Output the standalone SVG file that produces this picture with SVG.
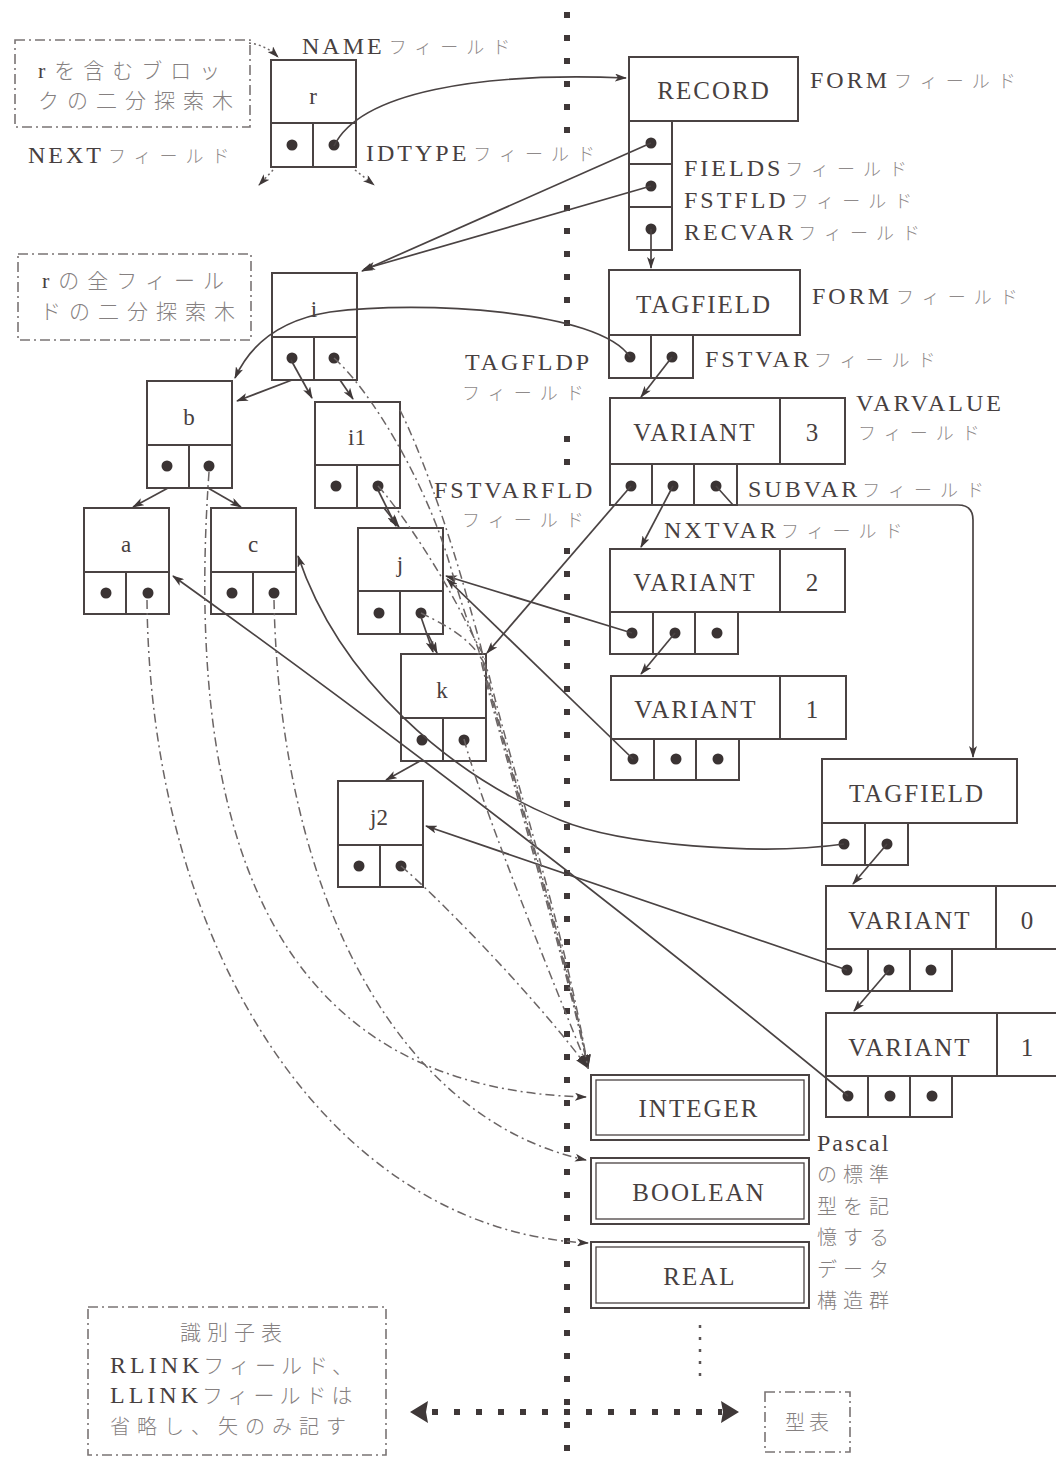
<svg xmlns="http://www.w3.org/2000/svg" width="1056" height="1463" viewBox="0 0 1056 1463">
<defs>
<style>
.box{fill:none;stroke:#4a4343;stroke-width:2}
.ln{fill:none;stroke:#4a4343;stroke-width:1.7}
.dd{fill:none;stroke:#6b6565;stroke-width:1.5;stroke-dasharray:9 4 2 4}
.dotted{fill:none;stroke:#3f3838;stroke-width:6;stroke-dasharray:6 17}
.fine{fill:none;stroke:#6b6565;stroke-width:1.5;stroke-dasharray:2 3}
.frame{fill:none;stroke:#7a7474;stroke-width:1.6;stroke-dasharray:10 4 2 4}
.dot{fill:#3a3333}
.en{font-family:"Liberation Serif",serif;font-size:24px;letter-spacing:3px;fill:#474040}
.jp{font-family:"Noto Sans CJK JP",sans-serif;font-size:18px;letter-spacing:8px;fill:#8f8a8a;font-weight:300}
.jb{font-family:"Noto Sans CJK JP",sans-serif;font-size:21px;letter-spacing:8px;fill:#858080;font-weight:300}
.tn{font-family:"Liberation Serif",serif;font-size:25px;letter-spacing:2px;fill:#474040;text-anchor:middle}
.id{font-family:"Liberation Serif",serif;font-size:23px;fill:#474040;text-anchor:middle}
</style>
<marker id="ah" viewBox="0 0 12 8" refX="11" refY="4" markerWidth="12" markerHeight="8" markerUnits="userSpaceOnUse" orient="auto">
<path d="M0 0L12 4L0 8L3 4Z" fill="#3f3838"/>
</marker>
<marker id="ahb" viewBox="0 0 14 10" refX="13" refY="5" markerWidth="14" markerHeight="10" markerUnits="userSpaceOnUse" orient="auto">
<path d="M0 0L14 5L0 10Z" fill="#3f3838"/>
</marker>
</defs>
<rect width="1056" height="1463" fill="#ffffff"/>

<!-- separator between identifier table and type table -->
<g id="separator">
<path class="dotted" d="M567 12V135M567 205V335M567 436V470M567 548V1456"/>
<path class="dotted" d="M432 1412H722" style="stroke-dasharray:6 16"/>
<path d="M410 1412L428 1401L426 1412L428 1423Z" fill="#3f3838"/>
<path d="M739 1412L721 1401L723 1412L721 1423Z" fill="#3f3838"/>
<path d="M700 1325V1378" fill="none" stroke="#5a5454" stroke-width="2.5" stroke-dasharray="3 9"/>
</g>

<!-- notes in dash-dot frames -->
<g id="note-block">
<rect class="frame" x="15" y="40" width="235" height="87"/>
<text x="38" y="78"><tspan class="en" style="font-size:22px">r</tspan><tspan class="jb" dx="6">を含むブロッ</tspan></text>
<text x="38" y="108" class="jb">クの二分探索木</text>
</g>
<g id="note-fields">
<rect class="frame" x="18" y="254" width="233" height="86"/>
<text x="42" y="288"><tspan class="en" style="font-size:22px">r</tspan><tspan class="jb" dx="6">の全フィール</tspan></text>
<text x="40" y="319" class="jb">ドの二分探索木</text>
</g>
<g id="note-idtable">
<rect class="frame" x="88" y="1307" width="298" height="148"/>
<text x="180" y="1340" class="jb" style="letter-spacing:6px">識別子表</text>
<text x="110" y="1373"><tspan class="en" style="letter-spacing:4px">RLINK</tspan><tspan class="jb" style="letter-spacing:5px">フィールド、</tspan></text>
<text x="110" y="1403"><tspan class="en" style="letter-spacing:4px">LLINK</tspan><tspan class="jb" style="letter-spacing:5px">フィールドは</tspan></text>
<text x="110" y="1434" class="jb" style="font-size:20px;letter-spacing:7px">省略し、矢のみ記す</text>
</g>
<g id="note-typetable">
<rect class="frame" x="765" y="1392" width="85" height="60"/>
<text x="785" y="1430" class="jb" style="font-size:20px;letter-spacing:4px">型表</text>
</g>

<!-- field labels -->
<g id="labels">
<text x="302" y="54"><tspan class="en">NAME</tspan><tspan class="jp" dx="4">フィールド</tspan></text>
<text x="28" y="163"><tspan class="en">NEXT</tspan><tspan class="jp" dx="4">フィールド</tspan></text>
<text x="366" y="161"><tspan class="en">IDTYPE</tspan><tspan class="jp" dx="4">フィールド</tspan></text>
<text x="810" y="88"><tspan class="en">FORM</tspan><tspan class="jp" dx="4">フィールド</tspan></text>
<text x="684" y="176"><tspan class="en">FIELDS</tspan><tspan class="jp" dx="2">フィールド</tspan></text>
<text x="684" y="208"><tspan class="en">FSTFLD</tspan><tspan class="jp" dx="2">フィールド</tspan></text>
<text x="684" y="240"><tspan class="en">RECVAR</tspan><tspan class="jp" dx="2">フィールド</tspan></text>
<text x="812" y="304"><tspan class="en">FORM</tspan><tspan class="jp" dx="4">フィールド</tspan></text>
<text x="465" y="370" class="en">TAGFLDP</text>
<text x="462" y="400" class="jp">フィールド</text>
<text x="705" y="367"><tspan class="en">FSTVAR</tspan><tspan class="jp" dx="2">フィールド</tspan></text>
<text x="856" y="411" class="en">VARVALUE</text>
<text x="858" y="440" class="jp">フィールド</text>
<text x="434" y="498" class="en">FSTVARFLD</text>
<text x="462" y="527" class="jp">フィールド</text>
<text x="748" y="497"><tspan class="en">SUBVAR</tspan><tspan class="jp" dx="2">フィールド</tspan></text>
<text x="664" y="538"><tspan class="en">NXTVAR</tspan><tspan class="jp" dx="2">フィールド</tspan></text>
<text x="817" y="1151" class="en" style="letter-spacing:2px">Pascal</text>
<text x="817" y="1182" class="jb" style="font-size:20px;letter-spacing:6px">の標準</text>
<text x="817" y="1214" class="jb" style="font-size:20px;letter-spacing:6px">型を記</text>
<text x="817" y="1245" class="jb" style="font-size:20px;letter-spacing:6px">憶する</text>
<text x="817" y="1277" class="jb" style="font-size:20px;letter-spacing:6px">データ</text>
<text x="817" y="1308" class="jb" style="font-size:20px;letter-spacing:6px">構造群</text>
</g>

<!-- identifier table nodes: name cell over NEXT / IDTYPE cells -->
<g id="node-r" transform="translate(271,60)">
<rect class="box" width="85" height="107"/><path class="box" d="M0 63H85M42 63V107"/>
<circle class="dot" cx="21" cy="85" r="5.5"/><circle class="dot" cx="63" cy="85" r="5.5"/>
<text class="id" x="42" y="44">r</text>
</g>
<g id="node-i" transform="translate(272,273)">
<rect class="box" width="85" height="107"/><path class="box" d="M0 64H85M42 64V107"/>
<circle class="dot" cx="20" cy="85" r="5.5"/><circle class="dot" cx="62" cy="85" r="5.5"/>
<text class="id" x="42" y="44">i</text>
</g>
<g id="node-b" transform="translate(147,381)">
<rect class="box" width="85" height="107"/><path class="box" d="M0 64H85M42 64V107"/>
<circle class="dot" cx="20" cy="85" r="5.5"/><circle class="dot" cx="62" cy="85" r="5.5"/>
<text class="id" x="42" y="44">b</text>
</g>
<g id="node-i1" transform="translate(315,402)">
<rect class="box" width="85" height="106"/><path class="box" d="M0 63H85M42 63V106"/>
<circle class="dot" cx="21" cy="84" r="5.5"/><circle class="dot" cx="63" cy="84" r="5.5"/>
<text class="id" x="42" y="43">i1</text>
</g>
<g id="node-a" transform="translate(84,508)">
<rect class="box" width="85" height="106"/><path class="box" d="M0 64H85M42 64V106"/>
<circle class="dot" cx="22" cy="85" r="5.5"/><circle class="dot" cx="64" cy="85" r="5.5"/>
<text class="id" x="42" y="44">a</text>
</g>
<g id="node-c" transform="translate(211,508)">
<rect class="box" width="85" height="106"/><path class="box" d="M0 64H85M42 64V106"/>
<circle class="dot" cx="21" cy="85" r="5.5"/><circle class="dot" cx="63" cy="85" r="5.5"/>
<text class="id" x="42" y="44">c</text>
</g>
<g id="node-j" transform="translate(358,528)">
<rect class="box" width="85" height="106"/><path class="box" d="M0 63H85M42 63V106"/>
<circle class="dot" cx="21" cy="85" r="5.5"/><circle class="dot" cx="63" cy="85" r="5.5"/>
<text class="id" x="42" y="44">j</text>
</g>
<g id="node-k" transform="translate(401,654)">
<rect class="box" width="85" height="107"/><path class="box" d="M0 64H85M42 64V107"/>
<circle class="dot" cx="21" cy="86" r="5.5"/><circle class="dot" cx="63" cy="86" r="5.5"/>
<text class="id" x="41" y="44">k</text>
</g>
<g id="node-j2" transform="translate(338,781)">
<rect class="box" width="85" height="106"/><path class="box" d="M0 64H85M42 64V106"/>
<circle class="dot" cx="21" cy="85" r="5.5"/><circle class="dot" cx="63" cy="85" r="5.5"/>
<text class="id" x="41" y="44">j2</text>
</g>

<!-- type table nodes -->
<g id="type-record">
<rect class="box" x="629" y="57" width="169" height="64"/>
<rect class="box" x="629" y="121" width="43" height="129"/>
<path class="box" d="M629 164H672M629 207H672"/>
<circle class="dot" cx="651" cy="143" r="5.5"/><circle class="dot" cx="651" cy="186" r="5.5"/><circle class="dot" cx="651" cy="229" r="5.5"/>
<text class="tn" x="714" y="99">RECORD</text>
</g>
<g id="type-tagfield-1">
<rect class="box" x="609" y="270" width="191" height="65"/>
<rect class="box" x="609" y="335" width="84" height="43"/><path class="box" d="M651 335V378"/>
<circle class="dot" cx="630" cy="357" r="5.5"/><circle class="dot" cx="672" cy="357" r="5.5"/>
<text class="tn" x="704" y="313">TAGFIELD</text>
</g>
<g id="type-variant-3">
<rect class="box" x="610" y="398" width="170" height="66"/><rect class="box" x="780" y="398" width="65" height="66"/>
<rect class="box" x="610" y="464" width="127" height="41"/><path class="box" d="M652 464V505M694 464V505"/>
<circle class="dot" cx="631" cy="486" r="5.5"/><circle class="dot" cx="673" cy="486" r="5.5"/><circle class="dot" cx="716" cy="486" r="5.5"/>
<text class="tn" x="695" y="441">VARIANT</text><text class="tn" x="813" y="441">3</text>
</g>
<g id="type-variant-2">
<rect class="box" x="610" y="549" width="170" height="63"/><rect class="box" x="780" y="549" width="65" height="63"/>
<rect class="box" x="610" y="612" width="128" height="42"/><path class="box" d="M653 612V654M695 612V654"/>
<circle class="dot" cx="632" cy="633" r="5.5"/><circle class="dot" cx="675" cy="633" r="5.5"/><circle class="dot" cx="717" cy="633" r="5.5"/>
<text class="tn" x="695" y="591">VARIANT</text><text class="tn" x="813" y="591">2</text>
</g>
<g id="type-variant-1a">
<rect class="box" x="611" y="676" width="169" height="63"/><rect class="box" x="780" y="676" width="66" height="63"/>
<rect class="box" x="611" y="739" width="128" height="41"/><path class="box" d="M654 739V780M696 739V780"/>
<circle class="dot" cx="633" cy="759" r="5.5"/><circle class="dot" cx="676" cy="759" r="5.5"/><circle class="dot" cx="718" cy="759" r="5.5"/>
<text class="tn" x="696" y="718">VARIANT</text><text class="tn" x="813" y="718">1</text>
</g>
<g id="type-tagfield-2">
<rect class="box" x="822" y="759" width="195" height="64"/>
<rect class="box" x="822" y="823" width="86" height="42"/><path class="box" d="M865 823V865"/>
<circle class="dot" cx="844" cy="844" r="5.5"/><circle class="dot" cx="887" cy="844" r="5.5"/>
<text class="tn" x="917" y="802">TAGFIELD</text>
</g>
<g id="type-variant-0">
<rect class="box" x="826" y="886" width="170" height="63"/><rect class="box" x="996" y="886" width="72" height="63"/>
<rect class="box" x="826" y="949" width="126" height="42"/><path class="box" d="M868 949V991M910 949V991"/>
<circle class="dot" cx="847" cy="970" r="5.5"/><circle class="dot" cx="889" cy="970" r="5.5"/><circle class="dot" cx="931" cy="970" r="5.5"/>
<text class="tn" x="910" y="929">VARIANT</text><text class="tn" x="1028" y="929">0</text>
</g>
<g id="type-variant-1b">
<rect class="box" x="826" y="1013" width="171" height="63"/><rect class="box" x="997" y="1013" width="72" height="63"/>
<rect class="box" x="826" y="1076" width="126" height="41"/><path class="box" d="M868 1076V1117M910 1076V1117"/>
<circle class="dot" cx="848" cy="1096" r="5.5"/><circle class="dot" cx="890" cy="1096" r="5.5"/><circle class="dot" cx="932" cy="1096" r="5.5"/>
<text class="tn" x="910" y="1056">VARIANT</text><text class="tn" x="1028" y="1056">1</text>
</g>
<g id="type-integer">
<rect class="box" x="591" y="1075" width="218" height="65"/><rect class="box" x="596" y="1080" width="208" height="55" style="stroke-width:1.3"/>
<text class="tn" x="699" y="1117">INTEGER</text>
</g>
<g id="type-boolean">
<rect class="box" x="591" y="1158" width="218" height="66"/><rect class="box" x="596" y="1163" width="208" height="56" style="stroke-width:1.3"/>
<text class="tn" x="699" y="1201">BOOLEAN</text>
</g>
<g id="type-real">
<rect class="box" x="591" y="1242" width="218" height="66"/><rect class="box" x="596" y="1247" width="208" height="56" style="stroke-width:1.3"/>
<text class="tn" x="700" y="1285">REAL</text>
</g>

<!-- pointers -->
<g id="connectors">
<!-- block tree links -->
<path class="fine" d="M249 43Q266 45 278 57" marker-end="url(#ah)"/>
<path class="fine" d="M273 170L259 185" marker-end="url(#ah)"/>
<path class="fine" d="M355 170L374 185" marker-end="url(#ah)"/>
<!-- IDTYPE of r -->
<path class="ln" d="M334 146C360 92 480 72 626 78" marker-end="url(#ah)"/>
<!-- FIELDS / FSTFLD -->
<path class="ln" d="M651 143L362 271" marker-end="url(#ah)"/>
<path class="ln" d="M651 186L364 269" marker-end="url(#ah)"/>
<!-- RECVAR -->
<path class="ln" d="M651 229V268" marker-end="url(#ah)"/>
<!-- TAGFLDP -->
<path class="ln" d="M630 357C600 310 420 300 330 312C280 320 250 345 235 378" marker-end="url(#ah)"/>
<!-- FSTVAR / NXTVAR chains -->
<path class="ln" d="M672 357L641 397" marker-end="url(#ah)"/>
<path class="ln" d="M673 486L641 547" marker-end="url(#ah)"/>
<path class="ln" d="M675 633L641 674" marker-end="url(#ah)"/>
<path class="ln" d="M887 844L853 884" marker-end="url(#ah)"/>
<path class="ln" d="M889 970L854 1011" marker-end="url(#ah)"/>
<!-- SUBVAR -->
<path class="ln" d="M716 486L733 505H958Q973 505 973 520V757" marker-end="url(#ah)"/>
<!-- FSTVARFLD pointers into the field tree -->
<path class="ln" d="M631 486L487 653" marker-end="url(#ah)"/>
<path class="ln" d="M632 633L446 576" marker-end="url(#ah)"/>
<path class="ln" d="M633 759L447 579" marker-end="url(#ah)"/>
<path class="ln" d="M844 844C760 856 620 845 560 820C450 775 340 680 298 556" marker-end="url(#ah)"/>
<path class="ln" d="M847 970L426 826" marker-end="url(#ah)"/>
<path class="ln" d="M848 1096Q500 810 173 576" marker-end="url(#ah)"/>
<!-- field tree links -->
<path class="ln" d="M292 380L237 401" marker-end="url(#ah)"/>
<path class="ln" d="M291 360L312 398" marker-end="url(#ah)"/>
<path class="ln" d="M340 380L353 399" marker-end="url(#ah)"/>
<path class="ln" d="M168 488L133 507" marker-end="url(#ah)"/>
<path class="ln" d="M208 488L241 507" marker-end="url(#ah)"/>
<path class="ln" d="M378 490L396 526" marker-end="url(#ah)"/>
<path class="ln" d="M384 508L399 527" marker-end="url(#ah)"/>
<path class="ln" d="M421 617L433 652" marker-end="url(#ah)"/>
<path class="ln" d="M428 634L437 653" marker-end="url(#ah)"/>
<path class="ln" d="M420 761L386 780" marker-end="url(#ah)"/>
<!-- IDTYPE pointers to standard types -->
<path class="dd" d="M147 600C150 950 330 1230 588 1243" marker-end="url(#ah)"/>
<path class="dd" d="M209 472C180 880 300 1090 586 1097" marker-end="url(#ah)"/>
<path class="dd" d="M274 600C280 900 400 1120 586 1160" marker-end="url(#ah)"/>
<path class="dd" d="M401 866C430 890 530 990 588 1068" marker-end="url(#ahb)"/>
<path class="dd" d="M464 739C480 800 540 950 588 1068" marker-end="url(#ahb)"/>
<path class="dd" d="M334 358C370 390 425 480 450 565S478 640 482 665C505 760 558 930 588 1068" marker-end="url(#ahb)"/>
<path class="dd" d="M378 486C400 510 440 570 465 620S484 650 486 670C508 765 562 930 588 1068" marker-end="url(#ahb)"/>
<path class="dd" d="M421 613C445 625 478 640 489 675C512 770 565 930 588 1068" marker-end="url(#ahb)"/>
<path class="dd" d="M400 410C420 450 445 520 465 590S482 650 484 668C507 762 560 930 588 1068"/>
</g>
</svg>
